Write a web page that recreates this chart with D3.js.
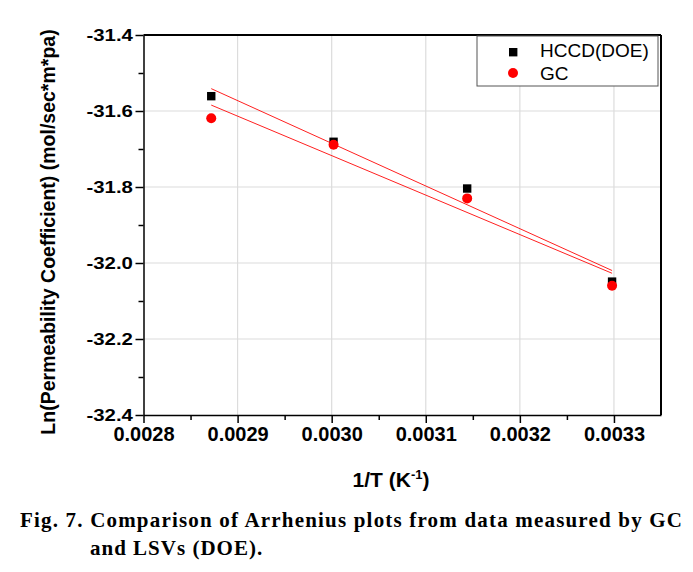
<!DOCTYPE html>
<html>
<head>
<meta charset="utf-8">
<script src="https://cdn.jsdelivr.net/npm/d3@7"></script>
<style>
  html, body { margin: 0; padding: 0; background: #fff; }
  svg { display: block; }
</style>
</head>
<body>
<svg id="chart" width="693" height="572"></svg>
<script>
// ---- data ----
const invT = [0.002872, 0.003002, 0.003144, 0.003298];
const hccdValues = [-31.561, -31.681, -31.804, -32.049];
const gcValues = [-31.619, -31.689, -31.830, -32.060];
const seriesNames = ["HCCD(DOE)", "GC"];
const xTicks = [0.0028, 0.0029, 0.0030, 0.0031, 0.0032, 0.0033];
const xTickLabels = ["0.0028", "0.0029", "0.0030", "0.0031", "0.0032", "0.0033"];
const yTicks = [-31.4, -31.6, -31.8, -32.0, -32.2, -32.4];
const yTickLabels = ["-31.4", "-31.6", "-31.8", "-32.0", "-32.2", "-32.4"];
const xMinor = [0.00285, 0.00295, 0.00305, 0.00315, 0.00325];
const yMinor = [-31.5, -31.7, -31.9, -32.1, -32.3];

const svg = d3.select("#chart");
const L = 143.5, R = 661, T = 35, B = 415;
const x = d3.scaleLinear().domain([0.0028, 0.00335]).range([L, R]);
const y = d3.scaleLinear().domain([-31.4, -32.4]).range([T, B]);

// grid
const grid = svg.append("g");
grid.selectAll("line.vx").data(xTicks.slice(1)).enter().append("line")
  .attr("x1", d => x(d)).attr("x2", d => x(d)).attr("y1", T).attr("y2", B)
  .attr("stroke", "#dcdcdc").attr("stroke-width", 1.2);
grid.selectAll("line.hy").data(yTicks.slice(1, -1)).enter().append("line")
  .attr("y1", d => y(d)).attr("y2", d => y(d)).attr("x1", L).attr("x2", R)
  .attr("stroke", "#dcdcdc").attr("stroke-width", 1.2);

// axes
const fontSans = "'Liberation Sans', Arial, Helvetica, sans-serif";
const xAxis = svg.append("g").attr("transform", `translate(0,${B})`)
  .call(d3.axisBottom(x).tickValues(xTicks).tickFormat((d, i) => xTickLabels[i]).tickSize(8).tickSizeOuter(0).tickPadding(4));
xAxis.selectAll("text").attr("font-family", fontSans).attr("font-size", "20px").attr("font-weight", "bold").attr("fill", "#000");
svg.append("g").attr("transform", `translate(0,${B})`)
  .call(d3.axisBottom(x).tickValues(xMinor).tickFormat("").tickSize(5).tickSizeOuter(0))
  .select(".domain").remove();

const yAxis = svg.append("g").attr("transform", `translate(${L},0)`)
  .call(d3.axisLeft(y).tickValues(yTicks).tickFormat((d, i) => yTickLabels[i]).tickSize(8).tickSizeOuter(0));
yAxis.selectAll("text").attr("font-family", fontSans).attr("font-size", "17px").attr("font-weight", "bold")
  .attr("fill", "#000").attr("x", -8.8).attr("transform", "scale(1.2,1)");
svg.append("g").attr("transform", `translate(${L},0)`)
  .call(d3.axisLeft(y).tickValues(yMinor).tickFormat("").tickSize(5).tickSizeOuter(0))
  .select(".domain").remove();
svg.selectAll(".domain, .tick line").attr("stroke", "#000").attr("stroke-width", 1.5);

// frame top/right
svg.append("line").attr("x1", L).attr("x2", R).attr("y1", T).attr("y2", T).attr("stroke", "#000").attr("stroke-width", 2);
svg.append("line").attr("x1", R).attr("x2", R).attr("y1", T).attr("y2", B).attr("stroke", "#000").attr("stroke-width", 2);

// linear fits
function fit(xs, ys) {
  const mx = d3.mean(xs), my = d3.mean(ys);
  const sxy = d3.sum(xs, (v, i) => (v - mx) * (ys[i] - my));
  const sxx = d3.sum(xs, v => (v - mx) * (v - mx));
  const b = sxy / sxx, a = my - b * mx;
  const x0 = d3.min(xs), x1 = d3.max(xs);
  return [[x0, a + b * x0], [x1, a + b * x1]];
}
const lineGen = d3.line().x(d => x(d[0])).y(d => y(d[1]));
[hccdValues, gcValues].forEach(vals => {
  svg.append("path").attr("d", lineGen(fit(invT, vals)))
    .attr("fill", "none").attr("stroke", "#ff2020").attr("stroke-width", 1);
});

// markers
svg.selectAll("rect.sq").data(invT).enter().append("rect")
  .attr("x", (d) => x(d) - 4.2).attr("y", (d, i) => y(hccdValues[i]) - 4.2)
  .attr("width", 8.4).attr("height", 8.4).attr("fill", "#000");
svg.selectAll("circle.gc").data(invT).enter().append("circle")
  .attr("cx", d => x(d)).attr("cy", (d, i) => y(gcValues[i])).attr("r", 5).attr("fill", "#ff0000");

// legend
const lg = svg.append("g");
lg.append("rect").attr("x", 477).attr("y", 36).attr("width", 181).attr("height", 50)
  .attr("fill", "#fff").attr("stroke", "#555").attr("stroke-width", 1);
lg.append("rect").attr("x", 509).attr("y", 48).attr("width", 8.4).attr("height", 8.4).attr("fill", "#000");
lg.append("circle").attr("cx", 513).attr("cy", 73).attr("r", 5).attr("fill", "#ff0000");
lg.append("text").attr("x", 540).attr("y", 57).text(seriesNames[0])
  .attr("font-family", fontSans).attr("font-size", "19px").attr("fill", "#000");
lg.append("text").attr("x", 540).attr("y", 80).text(seriesNames[1])
  .attr("font-family", fontSans).attr("font-size", "19px").attr("fill", "#000");

// axis titles
const xt = svg.append("text").attr("x", 391).attr("y", 487).attr("text-anchor", "middle")
  .attr("font-family", fontSans).attr("font-size", "21px").attr("font-weight", "bold").attr("fill", "#000");
xt.append("tspan").text("1/T (K");
xt.append("tspan").text("-1").attr("font-size", "13px").attr("dy", "-8");
xt.append("tspan").text(")").attr("dy", "8");

svg.append("text").attr("transform", "translate(55,232) rotate(-90)").attr("text-anchor", "middle")
  .attr("font-family", fontSans).attr("font-size", "19.5px").attr("font-weight", "bold").attr("fill", "#000")
  .text("Ln(Permeability Coefficient) (mol/sec*m*pa)");

// caption
const fontSerif = "'Liberation Serif', 'Times New Roman', serif";
svg.append("text").attr("x", 20).attr("y", 527)
  .attr("font-family", fontSerif).attr("font-size", "21px").attr("font-weight", "bold").attr("fill", "#000")
  .attr("textLength", 662).attr("lengthAdjust", "spacing")
  .text("Fig. 7. Comparison of Arrhenius plots from data measured by GC");
svg.append("text").attr("x", 90).attr("y", 555)
  .attr("font-family", fontSerif).attr("font-size", "21px").attr("font-weight", "bold").attr("fill", "#000")
  .attr("letter-spacing", "1px")
  .text("and LSVs (DOE).");
</script>
</body>
</html>
